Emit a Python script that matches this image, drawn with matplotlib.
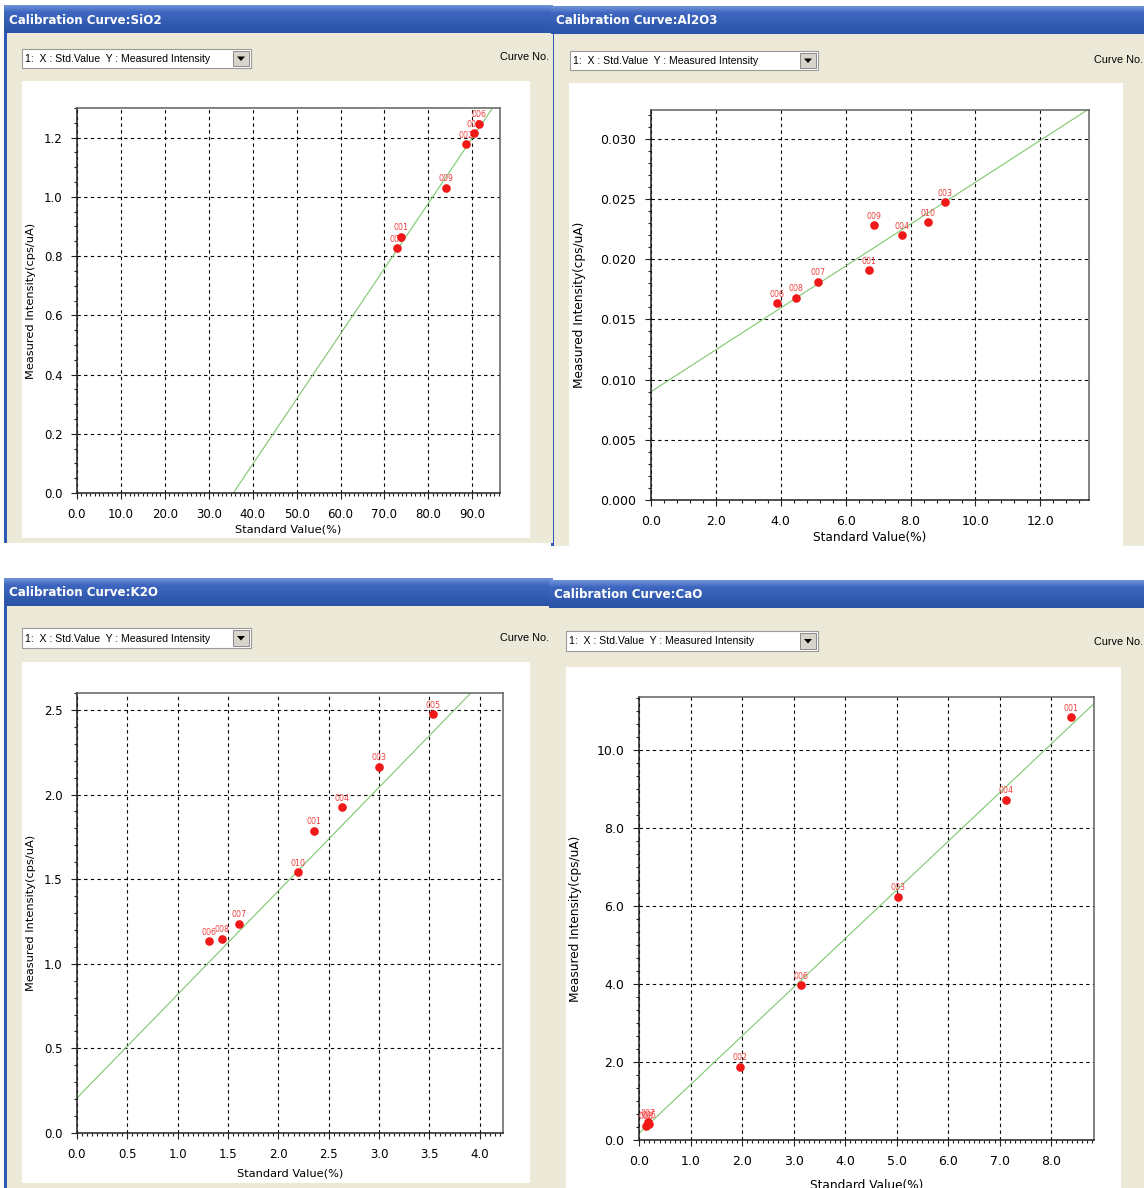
import numpy as np
import matplotlib.pyplot as plt
from matplotlib.patches import Rectangle, Polygon
from matplotlib.colors import LinearSegmentedColormap
from matplotlib.ticker import MultipleLocator, FormatStrFormatter

W, H = 1144, 1188

# calibration standards: x = standard value (%), y = measured intensity (cps/uA)
sio2_x = [91.5, 90.4, 88.6, 83.9, 73.8, 72.8]
sio2_y = [1.246, 1.215, 1.178, 1.031, 0.866, 0.827]
sio2_id = ['006', '005', '002', '009', '001', '003']
sio2_fit = [-0.784, 0.02203]      # intercept, slope

al2o3_x = [3.88, 4.46, 5.15, 6.73, 6.86, 7.75, 8.55, 9.05]
al2o3_y = [0.01636, 0.01678, 0.01811, 0.01908, 0.02283, 0.0220, 0.02308, 0.02475]
al2o3_id = ['006', '008', '007', '001', '009', '004', '010', '003']
al2o3_fit = [0.0090, 0.00174]

k2o_x = [1.307, 1.443, 1.609, 2.199, 2.358, 2.627, 3.002, 3.532]
k2o_y = [1.133, 1.147, 1.236, 1.542, 1.787, 1.925, 2.164, 2.475]
k2o_id = ['006', '008', '007', '010', '001', '004', '003', '005']
k2o_fit = [0.207, 0.612]

cao_x = [8.39, 7.13, 5.02, 3.15, 1.96, 0.14, 0.20, 0.18]
cao_y = [10.83, 8.72, 6.23, 3.96, 1.88, 0.37, 0.40, 0.45]
cao_id = ['001', '004', '003', '006', '002', '008', '005', '007']
cao_fit = [0.17, 1.247]

BEIGE = '#ECE9D8'
FRAME_BLUE = '#2E59B5'
RED = '#F01818'
LABEL_RED = '#F04040'
GREEN = '#7DC86E'
bar_cmap = LinearSegmentedColormap.from_list(
    'bar', ['#6E92D8', '#3E66C0', '#3760B6', '#3059AE', '#2B53A6'])

fig = plt.figure(figsize=(W / 100, H / 100), dpi=100)
fig.patch.set_facecolor('white')

bg = fig.add_axes([0, 0, 1, 1])
bg.set_axis_off()


def frac(x0, y0, x1, y1):
    return [x0 / W, 1 - y1 / H, (x1 - x0) / W, (y1 - y0) / H]


def window(x0, y0, x1, y1, bar_h, title, combo, curve_no, plot_area):
    bg.add_patch(Rectangle((x0, y0), x1 - x0, y1 - y0, fc=FRAME_BLUE, ec='none', zorder=1))
    bg.add_patch(Rectangle((x0 + 3, y0 + bar_h), x1 - x0 - 3, y1 - y0 - bar_h,
                           fc=BEIGE, ec='none', zorder=2))
    grad = np.linspace(0, 1, 40).reshape(-1, 1)
    bg.imshow(grad, extent=(x0, x1, y0 + bar_h, y0), cmap=bar_cmap,
              aspect='auto', origin='upper', zorder=2)
    bg.text(x0 + 5, y0 + bar_h / 2 + 1, title, color='white', fontsize=8.6,
            fontweight='bold', ha='left', va='center', zorder=3)

    # dropdown with the axis selection
    cx0, cy0, cx1, cy1 = combo
    bg.add_patch(Rectangle((cx0, cy0), cx1 - cx0, cy1 - cy0, fc='white',
                           ec='#9A9A9A', lw=0.8, zorder=3))
    bx0 = cx1 - 18
    bg.add_patch(Rectangle((bx0, cy0 + 2), 16, cy1 - cy0 - 4, fc='#D8D4CC',
                           ec='#8A8A8A', lw=0.7, zorder=4))
    mx, my = bx0 + 8, (cy0 + cy1) / 2
    bg.add_patch(Polygon([[mx - 4, my - 2], [mx + 4, my - 2], [mx, my + 2.5]],
                         closed=True, fc='black', ec='none', zorder=5))
    bg.text(cx0 + 3, my + 0.5, '1:  X : Std.Value  Y : Measured Intensity',
            fontsize=7.6, family='Liberation Sans', ha='left', va='center', zorder=5)
    bg.text(curve_no[0], curve_no[1], 'Curve No.', fontsize=7.8,
            family='Liberation Sans', ha='right', va='center', zorder=3)

    px0, py0, px1, py1 = plot_area
    bg.add_patch(Rectangle((px0, py0), px1 - px0, py1 - py0, fc='white',
                           ec='none', zorder=3))


def curve(rect, xs, ys, ids, fit, xlim, ylim, xstep, ystep, xfmt, yfmt, fs,
          ylab_x, xlab_y):
    x0, y0, x1, y1 = rect
    ax = fig.add_axes(frac(*rect))
    ax.set_facecolor('white')
    ax.set_xlim(*xlim)
    ax.set_ylim(*ylim)

    xx = np.array(xlim)
    ax.plot(xx, fit[0] + fit[1] * xx, color=GREEN, lw=0.8, zorder=2)
    for x, y, s in zip(xs, ys, ids):
        ax.annotate(s, (x, y), xytext=(0, 6.5), textcoords='offset points',
                    ha='center', va='center', fontsize=5.7, color=LABEL_RED, zorder=3)
    ax.plot(xs, ys, 'o', ms=6.2, color=RED, mec='none', zorder=4)

    ax.xaxis.set_major_locator(MultipleLocator(xstep[0]))
    ax.xaxis.set_minor_locator(MultipleLocator(xstep[1]))
    ax.yaxis.set_major_locator(MultipleLocator(ystep[0]))
    ax.yaxis.set_minor_locator(MultipleLocator(ystep[1]))
    ax.xaxis.set_major_formatter(FormatStrFormatter(xfmt))
    ax.yaxis.set_major_formatter(FormatStrFormatter(yfmt))

    ax.set_axisbelow(True)
    ax.grid(True, which='major', color='black', ls=(0, (3, 3)), lw=0.8)
    ax.tick_params(which='both', direction='out', top=False, right=False,
                   labelsize=fs, width=0.8, color='#202020')
    ax.tick_params(which='major', length=4.5, pad=6)
    ax.tick_params(which='minor', length=2.5)
    for side in ('left', 'bottom'):
        ax.spines[side].set_color('#202020')
        ax.spines[side].set_linewidth(1.1)
    for side in ('top', 'right'):
        ax.spines[side].set_color('#606060')
        ax.spines[side].set_linewidth(1.1)

    bg.text(ylab_x, (y0 + y1) / 2, 'Measured Intensity(cps/uA)', rotation=90,
            fontsize=fs - 0.3, ha='center', va='center', zorder=5)
    bg.text((x0 + x1) / 2, xlab_y, 'Standard Value(%)', fontsize=fs - 0.3,
            ha='center', va='center', zorder=5)
    return ax


# window chrome
window(4, 5, 553, 543, 28, 'Calibration Curve:SiO2',
       (22, 49, 251, 68), (549, 57), (22, 81, 530, 538))
window(551, 6, 1150, 546, 28, 'Calibration Curve:Al2O3',
       (570, 51, 818, 70), (1143, 60), (569, 83, 1123, 546))
window(4, 578, 553, 1190, 28, 'Calibration Curve:K2O',
       (22, 628, 251, 648), (549, 638), (22, 662, 530, 1183))
window(549, 580, 1150, 1190, 28, 'Calibration Curve:CaO',
       (566, 631, 818, 651), (1143, 642), (566, 667, 1121, 1190))

bg.set_xlim(0, W)
bg.set_ylim(H, 0)

curve((77, 108, 500, 493), sio2_x, sio2_y, sio2_id, sio2_fit,
      (0, 96.3), (0, 1.30), (10, 1), (0.2, 0.05), '%.1f', '%.1f', 8.5, 31, 529)
curve((651, 110, 1089, 500), al2o3_x, al2o3_y, al2o3_id, al2o3_fit,
      (0, 13.5), (0, 0.0324), (2, 0.4), (0.005, 0.001), '%.1f', '%.3f', 9, 580, 537)
curve((77, 693, 503, 1133), k2o_x, k2o_y, k2o_id, k2o_fit,
      (0, 4.23), (0, 2.60), (0.5, 0.05), (0.5, 0.1), '%.1f', '%.1f', 8.5, 31, 1174)
curve((639, 697, 1094, 1140), cao_x, cao_y, cao_id, cao_fit,
      (0, 8.83), (0, 11.35), (1, 0.1), (2, 2 / 6), '%.1f', '%.1f', 9, 576, 1186)

fig.savefig('out.png', dpi=100, facecolor='white')
